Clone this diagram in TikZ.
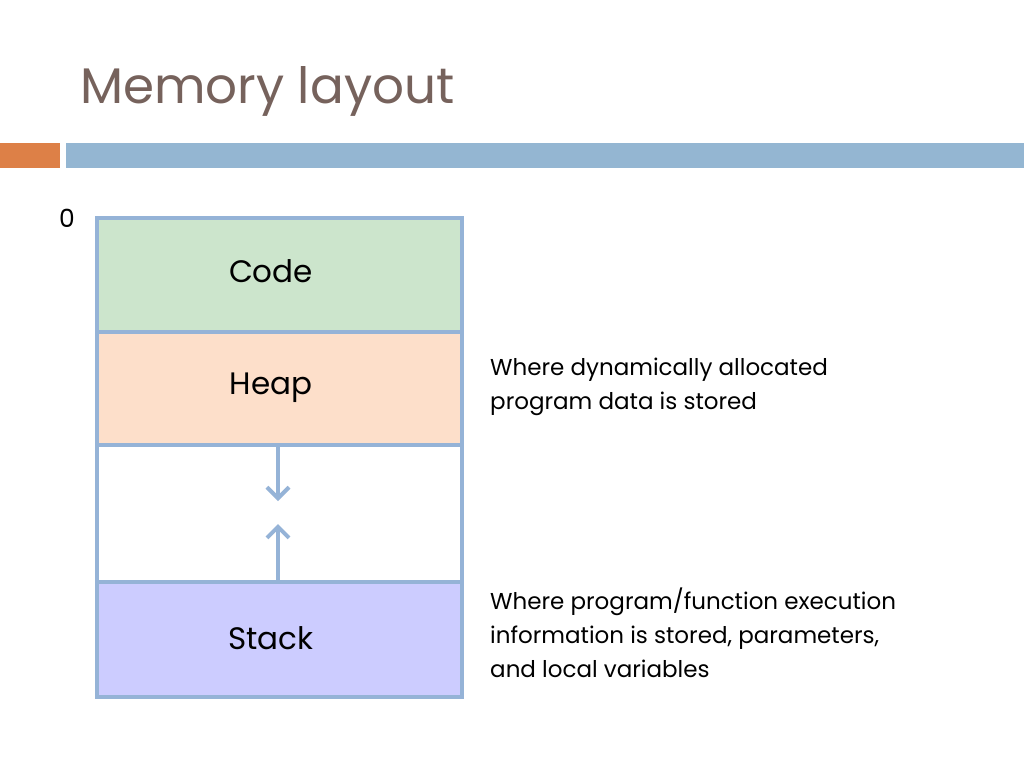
\documentclass[tikz,border=0pt]{standalone}
\usepackage{fontspec}
\setmainfont{Poppins}
\usetikzlibrary{arrows.meta}
\definecolor{titlec}{HTML}{76625C}
\definecolor{orangebar}{HTML}{DD8047}
\definecolor{bluebar}{HTML}{94B6D2}
\definecolor{edgec}{HTML}{95B3D7}
\definecolor{codec}{HTML}{CCE5CC}
\definecolor{heapc}{HTML}{FDDFCA}
\definecolor{stackc}{HTML}{CCCCFF}
\tikzset{
  segbox/.style={draw=edgec, line width=4pt, minimum width=365pt, inner sep=0pt, anchor=north west},
  growarrow/.style={draw=edgec, line width=4pt, -{Straight Barb[length=11pt,width=22pt,line width=4pt]}},
  desctext/.style={anchor=base west, align=left, inner sep=0pt, font=\fontsize{23}{34}\selectfont},
  segtext/.style={anchor=base, inner sep=0pt, font=\fontsize{31}{36}\selectfont},
}
\begin{document}
\begin{tikzpicture}[x=1pt,y=-1pt]
\useasboundingbox (0,0) rectangle (1024,768);
\node[anchor=base west, inner sep=0pt, text=titlec, font=\fontsize{50}{60}\selectfont] (title) at (80,103) {Memory layout};
\fill[orangebar] (0,143) rectangle (60,168);
\fill[bluebar] (66,143) rectangle (1024,168);
\node[anchor=base, inner sep=0pt, font=\fontsize{25}{28}\selectfont] (zero) at (67,227) {0};
\node[segbox, fill=codec, minimum height=114pt] (code) at (95,216) {};
\node[segbox, fill=heapc, minimum height=113pt] (heap) at (95,330) {};
\node[segbox, fill=white, minimum height=137pt] (gap) at (95,443) {};
\node[segbox, fill=stackc, minimum height=115pt] (stack) at (95,580) {};
\node[segtext] (codet) at (271,282) {Code};
\node[segtext] (heapt) at (271,394) {Heap};
\node[segtext] (stackt) at (271,649) {Stack};
\coordinate (dtip) at (278,501);
\coordinate (utip) at (278,524);
\draw[growarrow] (gap.north -| dtip) -- (dtip);
\draw[growarrow] (stack.north -| utip) -- (utip);
\node[desctext] (heapd) at (490,409) {Where dynamically allocated\\program data is stored};
\node[desctext] (stackd) at (490,677) {Where program/function execution\\information is stored, parameters,\\and local variables};
\end{tikzpicture}
\end{document}
